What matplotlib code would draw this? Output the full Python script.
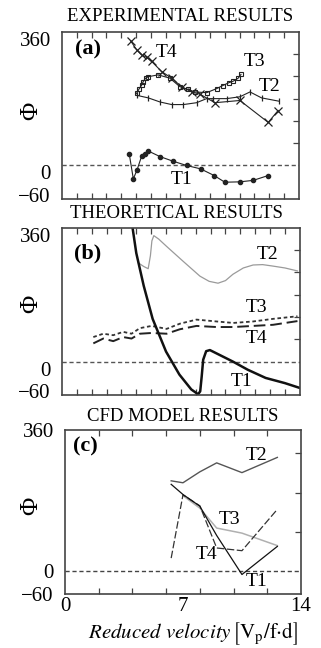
import matplotlib
matplotlib.use("Agg")
import matplotlib.pyplot as plt

plt.rcParams["font.family"] = ["Liberation Serif", "DejaVu Serif"]
plt.rcParams["mathtext.fontset"] = "stix"

# ---- (a) experimental results ----
a_t1_x = [4.55, 4.82, 5.08, 5.38, 5.6, 5.83, 6.62, 7.47, 8.42, 9.36, 10.28, 11.0, 12.02, 12.92, 13.93]
a_t1_y = [30, -36, -11, 25, 30, 39, 24, 12, 0, -9, -27, -45, -44, -40, -27]
a_t2_x = [5.04, 5.83, 6.62, 7.41, 8.2, 9.09, 9.77, 10.2, 11.12, 12.02, 12.7, 13.48, 14.67]
a_t2_y = [189, 182, 171, 164, 164, 169, 180, 180, 180, 185, 198, 182, 173]
a_t3_x = [5.04, 5.22, 5.38, 5.49, 5.65, 5.83, 6.5, 7.29, 7.97, 8.5, 8.98, 9.77, 10.45, 10.85, 11.28, 11.57, 11.9, 12.09]
a_t3_y = [194, 207, 216, 226, 235, 239, 244, 235, 212, 205, 198, 196, 207, 215, 223, 227, 235, 245]
a_t4_x = [4.63, 5.04, 5.38, 5.72, 6.06, 6.73, 7.41, 8.08, 8.76, 9.32, 10.33, 12.02, 13.93, 14.6]
a_t4_y = [336, 312, 298, 291, 280, 253, 235, 212, 198, 192, 169, 175, 116, 148]

# ---- (b) theoretical results ----
b_t1_x = [4.75, 5.0, 5.5, 6.1, 7.0, 7.9, 8.7, 9.16, 9.3, 9.4, 9.5, 9.7, 9.95, 10.5, 11.5, 12.5, 13.7, 15.0, 16.0]
b_t1_y = [360, 292, 204, 115, 27, -35, -75, -88, -80, -40, 5, 28, 31, 20, 0, -22, -44, -58, -71]
b_t2_x = [5.13, 5.5, 5.8, 5.95, 6.05, 6.18, 6.5, 7.04, 8.15, 9.28, 9.9, 10.5, 11.0, 11.5, 12.2, 12.86, 13.5, 14.2, 15.0, 15.84]
b_t2_y = [266, 256, 250, 285, 325, 339, 330, 310, 270, 230, 216, 211, 218, 235, 252, 260, 261, 257, 252, 244]
b_t3_x = [2.11, 2.78, 3.45, 4.12, 4.68, 5.24, 6.03, 7.04, 7.93, 9.05, 10.4, 11.52, 12.86, 14.2, 15.84]
b_t3_y = [66, 75, 71, 80, 75, 90, 96, 88, 102, 113, 108, 104, 108, 115, 122]
b_t4_x = [2.11, 2.78, 3.45, 4.12, 4.68, 5.24, 6.03, 7.04, 7.93, 9.05, 10.4, 11.52, 12.86, 14.2, 15.84]
b_t4_y = [49, 62, 55, 66, 62, 75, 77, 75, 87, 96, 93, 93, 96, 99, 109]

# ---- (c) CFD model results ----
c_x = [6.3, 7.0, 8.0, 9.0, 10.5, 12.6]
c_t1_y = [221, 195, 165, 90, -10, 62]
c_t2_y = [230, 225, 253, 276, 251, 290]
c_t3_y = [None, 192, 160, 109, 96, 64]
c_t4_y = [32, 194, 166, 58, 51, 157]

titles = ["EXPERIMENTAL RESULTS", "THEORETICAL RESULTS", "CFD MODEL RESULTS"]
ytick_vals = [-60, 0, 360]
ytick_text = ["\u221260", "0", "360"]

fig = plt.figure(figsize=(3.21, 6.48), dpi=100)
ax_a = fig.add_axes([0.193, 0.693, 0.738, 0.258])
ax_b = fig.add_axes([0.193, 0.3904, 0.741, 0.258])
ax_c = fig.add_axes([0.2025, 0.0833, 0.735, 0.253])

spine_col = "#444444"
for ax in (ax_a, ax_b, ax_c):
    for s in ax.spines.values():
        s.set_color(spine_col)
        s.set_linewidth(1.2)
    ax.set_yticks(ytick_vals)
    ax.set_yticklabels(ytick_text, fontsize=15)
    ax.tick_params(axis="y", which="major", length=0, pad=8)
    ax.tick_params(axis="x", which="major", length=0)
    ax.tick_params(which="minor", direction="in", length=4, width=0.9, color=spine_col,
                   top=True, bottom=True, right=True, left=False)

for ax in (ax_a, ax_b):
    ax.set_xlim(0, 16)
    ax.set_ylim(-90, 360)
    ax.set_xticks([])
    ax.set_xticks(range(1, 16), minor=True)
    ax.set_yticks([-60, 60, 120, 180, 240, 300], minor=True)
    for lab in ax.get_yticklabels():
        lab.set_va("top")
    ax.axhline(0, color="#555555", lw=1.0, ls=(0, (3, 2)))

# panel a
mk = dict(color="#222222", lw=0.8)
ax_a.plot(a_t1_x, a_t1_y, marker="o", ms=3, **mk)
ax_a.plot(a_t2_x, a_t2_y, marker="|", ms=5, mew=0.9, **mk)
ax_a.plot(a_t3_x, a_t3_y, marker="s", ms=3.5, mfc="none", mew=0.8, **mk)
ax_a.plot(a_t4_x, a_t4_y, marker="x", ms=5.5, mew=0.9, **mk)

# panel b
ax_b.plot(b_t2_x, b_t2_y, color="#9a9a9a", lw=0.9)
ax_b.plot(b_t3_x, b_t3_y, color="#333333", lw=1.3, ls=(0, (2, 1.5)))
ax_b.plot(b_t4_x, b_t4_y, color="#222222", lw=1.4, ls=(0, (6, 2.5)))
ax_b.plot(b_t1_x, b_t1_y, color="#111111", lw=1.8)

# panel c
ax_c.set_xlim(0, 14)
ax_c.set_ylim(-60, 360)
ax_c.set_xticks([0, 7, 14])
ax_c.set_xticklabels(["0", "7", "14"], fontsize=15)
ax_c.tick_params(axis="x", which="major", pad=2)
ax_c.set_xticks(range(2, 14, 2), minor=True)
ax_c.set_yticks([100, 200, 300], minor=True)
ax_c.axhline(0, color="#444444", lw=1.0, ls=(0, (3, 2)))
ax_c.plot(c_x, c_t2_y, color="#555555", lw=1.0)
ax_c.plot(c_x[1:], c_t3_y[1:], color="#b0b0b0", lw=1.1)
ax_c.plot(c_x, c_t4_y, color="#333333", lw=0.9, ls=(0, (6, 2)))
ax_c.plot(c_x, c_t1_y, color="#111111", lw=0.9)

# curve labels
lab_kw = dict(fontsize=14, ha="center", va="center")
ax_a.text(1.76, 311, "(a)", fontsize=16, fontweight="bold", ha="center", va="center")
ax_a.text(7.09, 303, "T4", **lab_kw)
ax_a.text(13.03, 281, "T3", **lab_kw)
ax_a.text(14.04, 213, "T2", **lab_kw)
ax_a.text(8.1, -38, "T1", **lab_kw)

ax_b.text(1.75, 292, "(b)", fontsize=16, fontweight="bold", ha="center", va="center")
ax_b.text(13.85, 287, "T2", **lab_kw)
ax_b.text(13.1, 146, "T3", **lab_kw)
ax_b.text(13.1, 61, "T4", **lab_kw)
ax_b.text(12.1, -53, "T1", **lab_kw)

ax_c.text(1.19, 317, "(c)", fontsize=16, fontweight="bold", ha="center", va="center")
ax_c.text(11.37, 296, "T2", **lab_kw)
ax_c.text(9.79, 130, "T3", **lab_kw)
ax_c.text(8.4, 41, "T4", **lab_kw)
ax_c.text(11.37, -27, "T1", **lab_kw)

# section titles and phi labels
fig.text(0.561, 0.974, titles[0], fontsize=13.5, ha="center", va="center")
fig.text(0.551, 0.670, titles[1], fontsize=13.5, ha="center", va="center")
fig.text(0.570, 0.357, titles[2], fontsize=13.5, ha="center", va="center")
for yy in (0.829, 0.531, 0.219):
    fig.text(0.097, yy, "\u03a6", fontsize=18, rotation=90, ha="center", va="center")

fig.text(0.60, 0.022,
         r"$\mathit{Reduced\ velocity}\,\left[\mathrm{V_p/f{\cdot}d}\right]$",
         fontsize=15, ha="center", va="center")

fig.savefig("out.png", dpi=100)
